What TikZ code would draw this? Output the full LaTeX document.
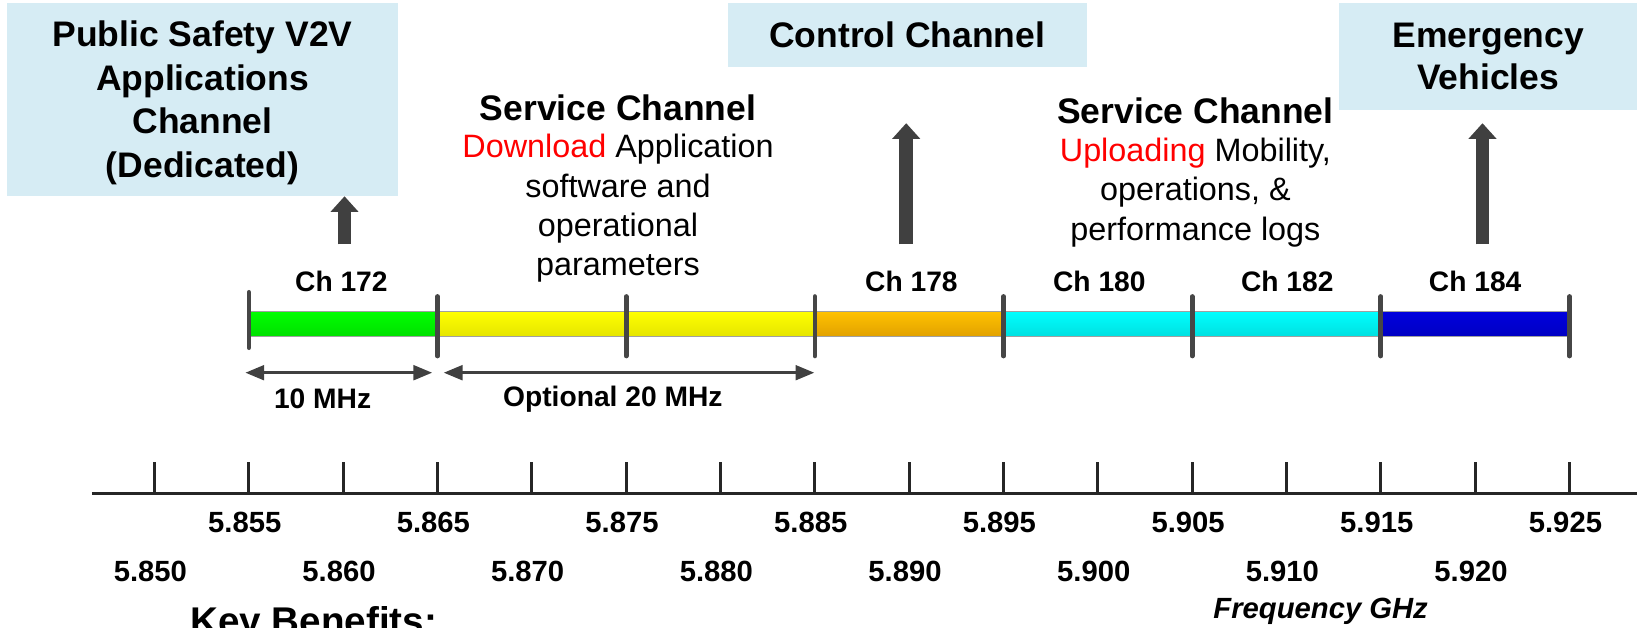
\documentclass[tikz,border=0pt]{standalone}
\usepackage{fontspec}
\setmainfont{Liberation Sans}
\usetikzlibrary{arrows.meta}
\definecolor{boxblue}{RGB}{214,236,244}
\definecolor{arrgray}{RGB}{64,64,64}
\definecolor{tickgray}{RGB}{70,70,70}
\definecolor{rimgray}{RGB}{160,160,160}
\tikzset{
  infobox/.style={fill=boxblue, inner sep=0pt, align=center, font=\bfseries\fontsize{34}{42}\selectfont},
  bigarrow/.style={draw=arrgray, line width=13pt, -{Triangle[width=26pt,length=15pt]}},
  dimarrow/.style={draw=arrgray, line width=3pt, {Triangle[width=14pt,length=18pt]}-{Triangle[width=14pt,length=18pt]}},
  sctitle/.style={inner sep=0pt, font=\bfseries\fontsize{34}{40}\selectfont},
  scbody/.style={inner sep=0pt, align=center, font=\fontsize{31}{37.5}\selectfont},
  chlabel/.style={inner sep=0pt, font=\bfseries\fontsize{27}{32}\selectfont},
  freqlabel/.style={inner sep=0pt, font=\bfseries\fontsize{28}{32}\selectfont},
  bartick/.style={draw=tickgray, line width=4.5pt, line cap=round},
  axtick/.style={draw=black!85, line width=2.8pt}
}
\begin{document}
\begin{tikzpicture}[x=1pt,y=-1pt]
\useasboundingbox (0,0) rectangle (1568,601);

% top boxes
\fill[boxblue] (7,3) rectangle (381,188);
\node[infobox, fill=none, minimum width=374pt] (ps) at (194,98.5)
  {Public Safety V2V\\Applications\\Channel\\(Dedicated)};
\coordinate (psb) at (330,188);
\node[infobox, minimum width=344pt, minimum height=61pt] (cc) at (869,33.5) {Control Channel};
\node[infobox, minimum width=285pt, minimum height=102pt, font=\bfseries\fontsize{34}{41}\selectfont] (ev) at (1425.5,54)
  {Emergency\\Vehicles};

% service channel texts
\node[sctitle] (sc1t) at (592,103) {Service Channel};
\node[scbody] (sc1b) at (592,199.5) {\textcolor{red}{Download} Application\\software and\\operational\\parameters};
\node[sctitle] (sc2t) at (1145,106) {Service Channel};
\node[scbody] (sc2b) at (1145,184.5) {\textcolor{red}{Uploading} Mobility,\\operations, \&\\performance logs};

% channel labels
\node[chlabel] (ch172) at (327,270) {Ch 172};
\node[chlabel] (ch178) at (873,270) {Ch 178};
\node[chlabel] (ch180) at (1053,270) {Ch 180};
\node[chlabel] (ch182) at (1233,270) {Ch 182};
\node[chlabel] (ch184) at (1413,270) {Ch 184};

% arrows up
\coordinate (a1) at (330,234);
\coordinate (a2) at (868,234);
\coordinate (a3) at (1420,234);
\coordinate (t2) at (868,118);
\coordinate (t3) at (1420,118);
\draw[bigarrow] (a1) -- (psb);
\draw[bigarrow] (a2) -- (t2);
\draw[bigarrow] (a3) -- (t3);

% bar segments
\shade[top color=green, bottom color=green!88!black] (238.4,298) rectangle (419.1,322);
\shade[top color=yellow, bottom color=yellow!90!black] (419.1,298) rectangle (780.5,322);
\shade[top color={rgb,255:red,255;green,194;blue,0}, bottom color={rgb,255:red,226;green,162;blue,0}] (780.5,298) rectangle (961.2,322);
\shade[top color=cyan, bottom color=cyan!88!black] (961.2,298) rectangle (1322.6,322);
\shade[top color={rgb,255:red,0;green,0;blue,222}, bottom color={rgb,255:red,0;green,0;blue,195}] (1322.6,298) rectangle (1503.4,322);
\draw[rimgray, line width=0.8pt] (238.4,298) -- (1503.4,298) (238.4,322) -- (1503.4,322);

% bar ticks
\draw[bartick] (238.4,280) -- (238.4,333);
\foreach \x in {419.1,599.8,780.5,961.2,1141.9,1322.6,1503.4}
  \draw[bartick] (\x,284) -- (\x,341);

% width arrows
\coordinate (w1a) at (235,357);
\coordinate (w1b) at (414,357);
\coordinate (w2a) at (425,357);
\coordinate (w2b) at (780,357);
\draw[dimarrow] (w1a) -- (w1b);
\draw[dimarrow] (w2a) -- (w2b);
\node[chlabel] (mhz10) at (309,382) {10 MHz};
\node[chlabel] (mhz20) at (587,382) {Optional 20 MHz};

% frequency axis
\draw[black!85, line width=3.2pt] (88,473) -- (1568,473);
\foreach \i in {0,...,15}
  \draw[axtick] ({148+90.36*\i},443) -- ({148+90.36*\i},473);

\foreach \v [count=\k from 0] in {855,865,875,885,895,905,915,925}
  \node[freqlabel] (up\v) at ({238.4+180.72*\k-4},500) {5.\v};
\foreach \v [count=\k from 0] in {850,860,870,880,890,900,910,920}
  \node[freqlabel] (lo\v) at ({148+180.72*\k-4},547) {5.\v};

\node[inner sep=0pt, font=\bfseries\itshape\fontsize{28}{32}\selectfont] (fghz) at (1265,586) {Frequency GHz};
\node[inner sep=0pt, anchor=base west, font=\bfseries\fontsize{37}{44}\selectfont] (kb) at (182,608) {Key Benefits:};
\end{tikzpicture}
\end{document}
